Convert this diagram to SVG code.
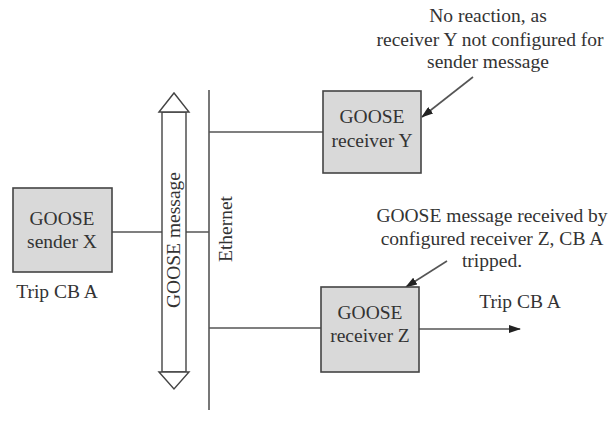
<svg xmlns="http://www.w3.org/2000/svg" width="613" height="439" viewBox="0 0 613 439">
<style>
.box{fill:#d9d9d9;stroke:#444;stroke-width:1.6}
.ln{stroke:#555;stroke-width:1.6;fill:none}
.t{font-family:'Liberation Serif','DejaVu Serif',serif;font-size:19.5px;fill:#333;text-anchor:middle}
</style>
<defs>
<marker id="ah" markerWidth="12" markerHeight="8" refX="11" refY="4" orient="auto" markerUnits="userSpaceOnUse">
<path d="M0,0 L12,4 L0,8 Z" fill="#222"/>
</marker>
</defs>
<rect width="613" height="439" fill="#fff"/>
<g id="connectors">
<line class="ln" x1="209" y1="90" x2="209" y2="410"/>
<line class="ln" x1="112" y1="232" x2="209" y2="232"/>
<line class="ln" x1="209" y1="132" x2="323" y2="132"/>
<line class="ln" x1="209" y1="328" x2="321" y2="328"/>
<line class="ln" x1="419" y1="329" x2="520" y2="329" marker-end="url(#ah)"/>
<line class="ln" x1="473" y1="77" x2="422" y2="117" stroke="#333" marker-end="url(#ah)"/>
<line class="ln" x1="447" y1="261" x2="406" y2="287" stroke="#333" marker-end="url(#ah)"/>
</g>
<g id="goose-message">
<path d="M162,112 L162,372 L186,372 L186,112 Z" fill="#fff" stroke="#444" stroke-width="1.4"/>
<path d="M159,112 L174,93 L189,112 Z" fill="#fff" stroke="#444" stroke-width="1.4"/>
<path d="M159,372 L174,389 L189,372 Z" fill="#fff" stroke="#444" stroke-width="1.4"/>
<text class="t" transform="translate(180,240) rotate(-90)">GOOSE message</text>
</g>
<g id="ethernet">
<text class="t" transform="translate(232,229) rotate(-90)">Ethernet</text>
</g>
<g id="sender-x">
<rect class="box" x="13" y="188" width="99" height="84"/>
<text class="t" x="62" y="225">GOOSE</text>
<text class="t" x="62" y="248">sender X</text>
<text class="t" x="57" y="298">Trip CB A</text>
</g>
<g id="receiver-y">
<rect class="box" x="323" y="91" width="98" height="82"/>
<text class="t" x="372" y="123">GOOSE</text>
<text class="t" x="372" y="147">receiver Y</text>
</g>
<g id="receiver-z">
<rect class="box" x="321" y="287" width="98" height="85"/>
<text class="t" x="370" y="319">GOOSE</text>
<text class="t" x="370" y="342">receiver Z</text>
<text class="t" x="520" y="308">Trip CB A</text>
</g>
<g id="note-y">
<text class="t" x="488" y="22">No reaction, as</text>
<text class="t" x="490" y="46">receiver Y not configured for</text>
<text class="t" x="488" y="68">sender message</text>
</g>
<g id="note-z">
<text class="t" x="492" y="222">GOOSE message received by</text>
<text class="t" x="492" y="245">configured receiver Z, CB A</text>
<text class="t" x="492" y="267">tripped.</text>
</g>
</svg>
